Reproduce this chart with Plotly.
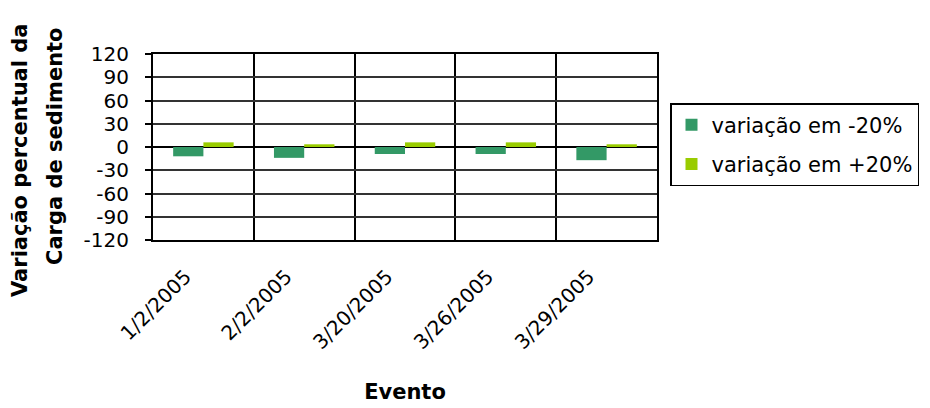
import plotly.graph_objects as go

eventos = ["1/2/2005", "2/2/2005", "3/20/2005", "3/26/2005", "3/29/2005"]
var_menos20 = [-12, -14, -9, -9, -17]
var_mais20 = [6, 3.5, 6, 6, 3.5]
y_ticks = [-120, -90, -60, -30, 0, 30, 60, 90, 120]
y_tick_labels = ["-120", "-90", "-60", "-30", "0", "30", "60", "90", "120"]
y_title_lines = ["Variação percentual da", "Carga de sedimento"]

font = "DejaVu Sans, Liberation Sans, Arial, sans-serif"

fig = go.Figure()
fig.add_trace(go.Bar(x=eventos, y=var_menos20, name="variação em -20%",
                     marker=dict(color="#339966", line=dict(width=0)), legendgroup="a"))
fig.add_trace(go.Bar(x=eventos, y=var_mais20, name="variação em +20%",
                     marker=dict(color="#99cc00", line=dict(width=0)), legendgroup="b"))

# plot area in screen px (the page body adds an 8px offset)
OFF = 8
PL, PR, PT, PB = 153, 657, 54, 240
PW = PR - PL
PH = PB - PT

fig.update_layout(
    width=930, height=408,
    margin=dict(l=PL - OFF, r=930 + OFF - PR, t=PT - OFF, b=408 + OFF - PB,
                autoexpand=False),
    paper_bgcolor="white", plot_bgcolor="white",
    barmode="group", bargap=0.4, bargroupgap=0,
    font=dict(family=font, size=20, color="black"),
    showlegend=True,
    legend=dict(x=(670 - PL) / PW, y=(PB - 103) / PH, xanchor="left", yanchor="top",
                bordercolor="black", borderwidth=1.5, font=dict(size=21),
                tracegroupgap=9, itemwidth=30),
    xaxis=dict(type="category", tickangle=-45, ticks="", tickson="boundaries",
               showgrid=True, gridcolor="black", gridwidth=2,
               showline=True, linecolor="black", linewidth=2, mirror=True,
               title=dict(text="<b>Evento</b>", font=dict(size=21), standoff=31),
               tickfont=dict(size=20), ticklabelstandoff=15, ticklabelshift=-18),
    yaxis=dict(range=[-120, 120], tickvals=y_ticks, ticktext=y_tick_labels,
               ticks="outside", ticklen=6,
               tickwidth=1.5, tickcolor="black", ticklabelstandoff=12,
               showgrid=True, gridcolor="#333333", gridwidth=1.5,
               zeroline=True, zerolinecolor="black", zerolinewidth=2,
               showline=True, linecolor="black", linewidth=2, mirror=True,
               tickfont=dict(size=20)),
)

# two-line rotated y title as annotations (exact line spacing)
title_pos = [(20, 160), (55, 146)]
for txt, (cx, cy) in zip(y_title_lines, title_pos):
    fig.add_annotation(text="<b>" + txt + "</b>", textangle=-90,
                       xref="paper", yref="paper",
                       x=(cx - PL) / PW, y=(PB - cy) / PH,
                       xanchor="center", yanchor="middle", showarrow=False,
                       font=dict(size=21, family=font, color="black"))

fig.write_html("out.html")
